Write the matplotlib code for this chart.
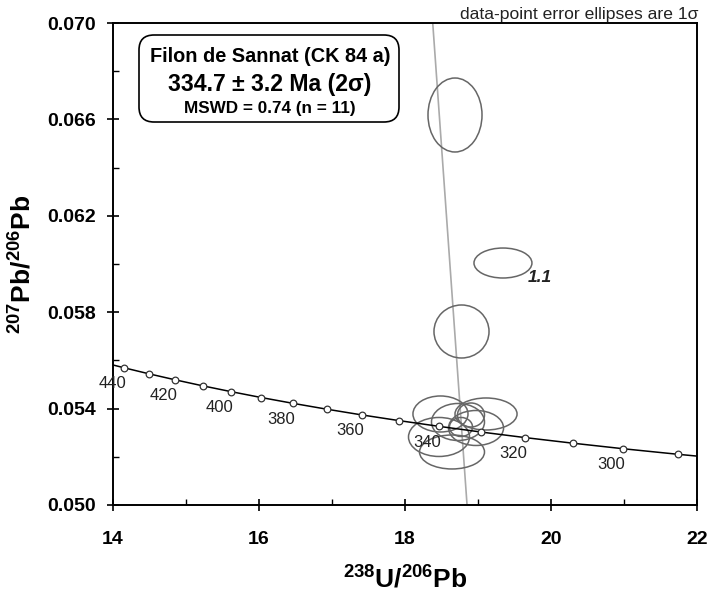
import numpy as np
import matplotlib
matplotlib.use("Agg")
import matplotlib.pyplot as plt
from matplotlib.patches import Ellipse, FancyBboxPatch
from matplotlib.ticker import FixedLocator

plt.rcParams['font.family'] = ['Liberation Sans', 'DejaVu Sans']
plt.rcParams['mathtext.fontset'] = 'custom'
plt.rcParams['mathtext.rm'] = 'Liberation Sans'
plt.rcParams['mathtext.bf'] = 'Liberation Sans:bold'

# concordia points (age Ma, 238U/206Pb, 207Pb/206Pb)
conc_age = [450, 440, 430, 420, 410, 400, 390, 380, 370, 360, 350,
            340, 330, 320, 310, 300, 290, 280]
conc_x = [13.831, 14.157, 14.497, 14.854, 15.228, 15.621, 16.034, 16.469,
          16.928, 17.411, 17.923, 18.465, 19.039, 19.649, 20.299, 20.992,
          21.733, 22.527]
conc_y = [0.055940, 0.055689, 0.055440, 0.055192, 0.054945, 0.054701,
          0.054457, 0.054216, 0.053975, 0.053736, 0.053499, 0.053263,
          0.053028, 0.052795, 0.052564, 0.052333, 0.052105, 0.051877]
labelled_ages = [440, 420, 400, 380, 360, 340, 320, 300]

# error ellipses (centre x, centre y, half-width x, half-height y)
ell_x = [18.685, 19.342, 18.774, 18.486, 19.110, 18.726, 18.644, 18.466,
         18.973, 18.767, 18.904]
ell_y = [0.066183, 0.060041, 0.057199, 0.053776, 0.053776, 0.053444,
         0.052199, 0.052822, 0.053195, 0.053237, 0.053734]
ell_rx = [0.370, 0.397, 0.377, 0.377, 0.425, 0.363, 0.445, 0.418, 0.377,
          0.158, 0.185]
ell_ry = [0.001535, 0.000622, 0.001100, 0.000747, 0.000664, 0.000768,
          0.000705, 0.000809, 0.000726, 0.000394, 0.000498]

# discordia end points
disc_x = [18.38, 18.85]
disc_y = [0.070, 0.050]

x_major = [14, 16, 18, 20, 22]
x_minor = [15, 17, 19, 21]
y_major = [0.050, 0.054, 0.058, 0.062, 0.066, 0.070]
y_minor = [0.052, 0.056, 0.060, 0.064, 0.068]

fig = plt.figure(figsize=(7.17, 5.95), dpi=100)
ax = fig.add_axes([0.1576, 0.1513, 0.8145, 0.81])

ax.plot(disc_x, disc_y, color='#aaaaaa', lw=1.2, zorder=2)

for x, y, rx, ry in zip(ell_x, ell_y, ell_rx, ell_ry):
    ax.add_patch(Ellipse((x, y), 2 * rx, 2 * ry, fill=False,
                         edgecolor='#666666', lw=1.1, zorder=3))

ax.plot(conc_x, conc_y, color='black', lw=1.1, zorder=4)
ax.plot(conc_x, conc_y, 'o', ms=4.8, mfc='white', mec='#333333', mew=0.9,
        zorder=5)
for age, x, y in zip(conc_age, conc_x, conc_y):
    if age in labelled_ages:
        ax.annotate(str(age), (x, y), xytext=(-8.6, -11.5),
                    textcoords='offset points', ha='center', va='center',
                    fontsize=12, color='#222222', zorder=6, annotation_clip=False)

ax.text(19.685, 0.05946, '1.1', fontsize=12.5, fontweight='bold',
        style='italic', ha='left', va='center', color='#222222')

ax.set_xlim(14, 22)
ax.set_ylim(0.050, 0.070)
ax.xaxis.set_major_locator(FixedLocator(x_major))
ax.xaxis.set_minor_locator(FixedLocator(x_minor))
ax.yaxis.set_major_locator(FixedLocator(y_major))
ax.yaxis.set_minor_locator(FixedLocator(y_minor))
ax.yaxis.set_major_formatter(plt.FormatStrFormatter('%.3f'))
ax.tick_params(which='major', direction='inout', length=8, width=1.2,
               labelsize=14)
ax.tick_params(axis='x', which='major', pad=14.5)
ax.tick_params(axis='y', which='major', pad=8)
ax.tick_params(which='minor', direction='in', length=4, width=1.0)
for lab in ax.get_xticklabels() + ax.get_yticklabels():
    lab.set_fontweight('bold')
for sp in ax.spines.values():
    sp.set_linewidth(1.4)

ax.set_xlabel(r'$\mathbf{^{238}U/^{206}Pb}$', fontsize=19, labelpad=13)
ax.set_ylabel(r'$\mathbf{^{207}Pb/^{206}Pb}$', fontsize=19, labelpad=8)

# results box (positions in inches from the bottom-left of the figure)
box = FancyBboxPatch((1.39, 4.73), 2.60, 0.87,
                     boxstyle='round,pad=0,rounding_size=0.15',
                     transform=fig.dpi_scale_trans, facecolor='white',
                     edgecolor='black', lw=1.2, zorder=10)
fig.patches.append(box)
fig.text(270 / 717, 1 - 57 / 595, 'Filon de Sannat (CK 84 a)', fontsize=14.3,
         fontweight='bold', ha='center', va='center', zorder=11)
fig.text(270 / 717, 1 - 85 / 595, '334.7 ± 3.2 Ma (2σ)', fontsize=16.6,
         fontweight='bold', ha='center', va='center', zorder=11)
fig.text(270 / 717, 1 - 108 / 595, 'MSWD = 0.74 (n = 11)', fontsize=12.3,
         fontweight='bold', ha='center', va='center', zorder=11)

fig.text(698 / 717, 1 - 15 / 595, 'data-point error ellipses are 1σ',
         fontsize=12.6, ha='right', va='center', color='#222222')

fig.savefig('out.png', dpi=100, facecolor='white')
